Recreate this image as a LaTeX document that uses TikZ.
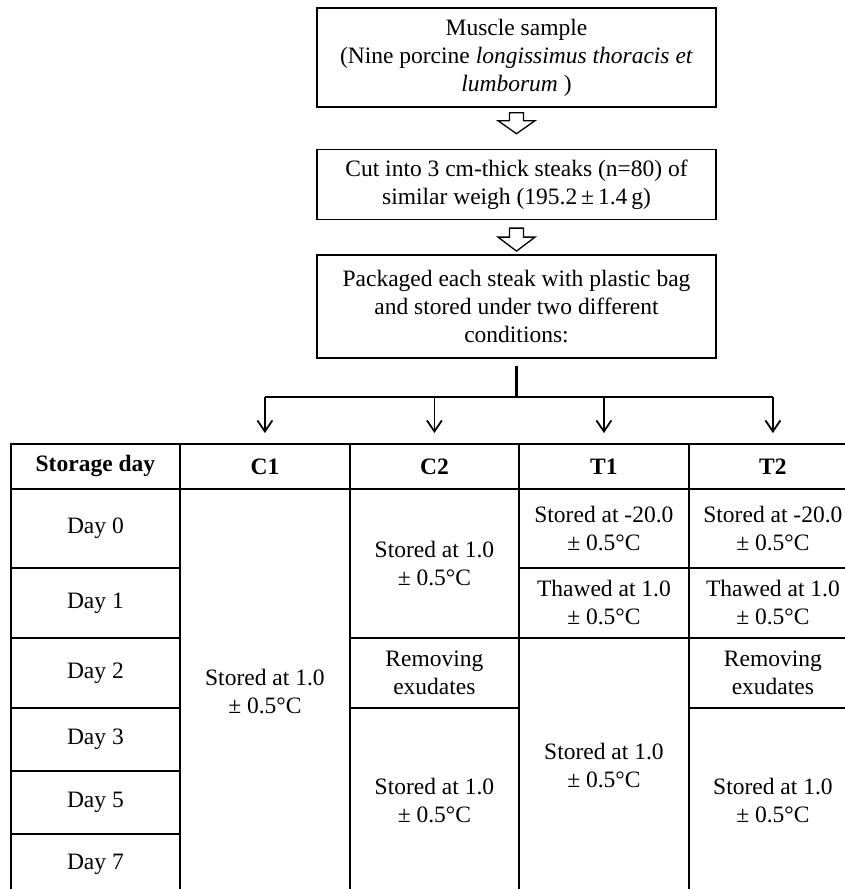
\documentclass[tikz,border=0pt]{standalone}
\usepackage{fontspec}
\setmainfont{Liberation Serif}
\usetikzlibrary{positioning,arrows.meta}

\begin{document}
\begin{tikzpicture}[
  x=1pt, y=-1pt,
  font=\fontsize{23.5}{28}\selectfont,
  box/.style={draw,line width=1.4pt,align=center,minimum width=399pt,inner sep=2pt},
  hollow/.style={draw,line width=1.3pt,fill=white,line join=miter},
  cell/.style 2 args={draw,line width=1.8pt,anchor=north west,align=center,inner sep=0pt,
    minimum width=#1,minimum height=#2},
  trunk/.style={line width=2.6pt},
  branch/.style={line width=1.8pt,-{Straight Barb[length=11pt,width=15pt]}}]
\useasboundingbox (0,0) rectangle (845,889);
% flow boxes
\node[box,minimum height=99pt] (sample) at (516.5,57.5)
  {Muscle sample\\(Nine porcine \textit{longissimus thoracis et}\\\textit{lumborum} )};
\node[box,minimum height=70pt,below=41pt of sample] (cut)
  {Cut into 3 cm-thick steaks (n=80) of\\similar weigh (195.2\,±\,1.4\,g)};
\node[box,minimum height=103pt,below=34pt of cut] (pack)
  {Packaged each steak with plastic bag\\and stored under two different\\conditions:};
% hollow arrows between the boxes
\draw[hollow] ([yshift=-5pt]sample.south) ++(-7,0) -- ++(14,0) -- ++(0,8) -- ++(11.5,0)
  -- ++(-18.5,13) -- ++(-18.5,-13) -- ++(11.5,0) -- cycle;
\draw[hollow] ([yshift=-8pt]cut.south) ++(-7,0) -- ++(14,0) -- ++(0,9) -- ++(11.5,0)
  -- ++(-18.5,14) -- ++(-18.5,-14) -- ++(11.5,0) -- cycle;
% table header
\node[cell={169pt}{45pt}] (hday) at (10,443) {\textbf{Storage day}};
\node[cell={170pt}{45pt}] (hc1) at (179,443) {\textbf{C1}};
\node[cell={169pt}{45pt}] (hc2) at (349,443) {\textbf{C2}};
\node[cell={170pt}{45pt}] (ht1) at (518,443) {\textbf{T1}};
\node[cell={168pt}{45pt}] (ht2) at (688,443) {\textbf{T2}};
% storage days
\node[cell={169pt}{79pt}] (d0) at (10,488) {Day 0};
\node[cell={169pt}{70pt}] (d1) at (10,567) {Day 1};
\node[cell={169pt}{70pt}] (d2) at (10,637) {Day 2};
\node[cell={169pt}{63pt}] (d3) at (10,707) {Day 3};
\node[cell={169pt}{63pt}] (d5) at (10,770) {Day 5};
\node[cell={169pt}{60pt}] (d7) at (10,833) {Day 7};
% C1
\node[cell={170pt}{405pt}] (c1a) at (179,488) {Stored at 1.0\\± 0.5°C};
% C2
\node[cell={169pt}{149pt}] (c2a) at (349,488) {Stored at 1.0\\± 0.5°C};
\node[cell={169pt}{70pt}] (c2b) at (349,637) {Removing\\exudates};
\node[cell={169pt}{186pt}] (c2c) at (349,707) {Stored at 1.0\\± 0.5°C};
% T1
\node[cell={170pt}{79pt}] (t1a) at (518,488) {Stored at -20.0\\± 0.5°C};
\node[cell={170pt}{70pt}] (t1b) at (518,567) {Thawed at 1.0\\± 0.5°C};
\node[cell={170pt}{256pt}] (t1c) at (518,637) {Stored at 1.0\\± 0.5°C};
% T2
\node[cell={168pt}{79pt}] (t2a) at (688,488) {Stored at -20.0\\± 0.5°C};
\node[cell={168pt}{70pt}] (t2b) at (688,567) {Thawed at 1.0\\± 0.5°C};
\node[cell={168pt}{70pt}] (t2c) at (688,637) {Removing\\exudates};
\node[cell={168pt}{186pt}] (t2d) at (688,707) {Stored at 1.0\\± 0.5°C};
% split to the four conditions
\coordinate (split) at (pack.south |- 0,397);
\draw[trunk] ([yshift=-7pt]pack.south) -- (split);
\draw[trunk] (hc1.north |- split) -- (ht2.north |- split);
\draw[branch] (hc1.north |- split) -- ([yshift=10pt]hc1.north);
\draw[branch] (hc2.north |- split) -- ([yshift=10pt]hc2.north);
\draw[branch] (ht1.north |- split) -- ([yshift=10pt]ht1.north);
\draw[branch] (ht2.north |- split) -- ([yshift=10pt]ht2.north);
\end{tikzpicture}
\end{document}
